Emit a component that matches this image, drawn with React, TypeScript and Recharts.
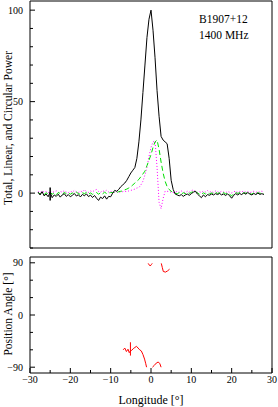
import { LineChart, Line, XAxis, YAxis, ReferenceArea } from "recharts"

const FONT = "'Liberation Serif', 'DejaVu Serif', serif"

// pulse longitude, degrees
const longitude = [
  -28, -27.5, -27, -26.5, -26, -25.5, -25, -24.5, -24, -23.5, -23, -22.5, -22, -21.5, -21, -20.5,
  -20, -19.5, -19, -18.5, -18, -17.5, -17, -16.5, -16, -15.5, -15, -14.5, -14, -13.5, -13, -12.5,
  -12, -11.5, -11, -10.5, -10, -9.5, -9, -8.5, -8, -7.5, -7, -6.5, -6, -5.5, -5, -4.5,
  -4, -3.5, -3, -2.5, -2, -1.5, -1, -0.5, 0, 0.5, 1, 1.5, 2, 2.5, 3, 3.5,
  4, 4.5, 5, 5.5, 6, 6.5, 7, 7.5, 8, 8.5, 9, 9.5, 10, 10.5, 11, 11.5,
  12, 12.5, 13, 13.5, 14, 14.5, 15, 15.5, 16, 16.5, 17, 17.5, 18, 18.5, 19, 19.5,
  20, 20.5, 21, 21.5, 22, 22.5, 23, 23.5, 24, 24.5, 25, 25.5, 26, 26.5, 27, 27.5, 28,
]

const totalPower = [
  0.5, -1, 0.8, -1.5, -0.5, -2, 0.5, -2.5, -1, -1.8, -0.6, -2.2, -1, -0.3, -1.8, -0.8,
  -2, -1.2, -0.2, -1.6, -0.9, -2.1, -0.7, -1.5, -0.4, -1.9, -1.1, -2.4, -1.3, -2.8, -4, -2.2,
  -3, -1.5, -3.3, -1.8, -2, 0, 1.5, 1, 2, 3.5, 4.5, 5.5, 7, 9, 11, 12.5,
  14, 19, 28, 40, 55, 70, 85, 95, 100, 89, 74, 56, 42, 31, 29, 28,
  27, 19, 7, 2, -0.5, -1, -1.5, -0.8, -1.8, -1, -0.5, -1.2, -0.3, 0.5, 1, -0.5,
  -1.5, -2.5, -1, -2, -0.8, -1.2, -0.5, -1, -0.3, -0.8, -0.2, -1, -0.5, -1.3, -0.4, -1.5,
  -2.8, -1.2, -0.3, -1, -0.2, -0.9, 0.2, -0.6, 0.3, -0.5, -1, -0.2, -0.8, 0, -0.7, -0.3, -0.8,
]

const linearPower = [
  0.3, -0.5, 0.6, -0.8, 0.2, -0.4, 0.5, -0.6, 0.1, -0.9, 0.3, -0.2, -0.7, 0.4, -0.3, 0.2,
  -0.6, 0.1, -0.4, 0.5, -0.2, -0.8, 0.2, -0.3, 0.4, -0.5, 0.1, -0.7, -0.2, 0.3, -0.6, 0.2,
  -0.4, 0.5, -0.3, 0.1, 0.3, 0.3, 0.5, 0.2, 0.8, 1, 1.2, 1.8, 2.2, 2.8, 3.5, 4.5,
  5.5, 6.5, 7.5, 9, 10.5, 12, 15, 18, 21, 25, 28, 29, 24, 17, 11, 6.5,
  3.5, 2, 1, 0.3, 0, -0.4, 0.3, -0.6, 0.2, -0.3, 0.5, -0.2, 0.4, 0.8, 1.2, 0.1,
  -0.6, -0.9, 0.2, -0.5, 0.3, -0.4, 0.1, -0.3, 0.5, -0.2, 0.2, -0.5, 0.3, -0.4, 0.1, -0.7,
  -1.5, -0.3, 0.4, -0.2, 0.3, -0.5, 0.2, -0.1, 0.6, -0.3, -0.6, 0.2, -0.4, 0.3, -0.2, 0.1, -0.3,
]

const circularPower = [
  0.8, 0.2, 1.2, 0.5, 0.9, 0.1, 1.1, 0.4, 0.7, 1.3, 0.3, 0.9, 0.5, 1.4, 0.6, 0.2,
  1, 0.5, 1.5, 0.7, 0.3, 1.1, 0.6, 1.8, 0.8, 0.4, 1.2, 0.7, 1.5, 2, 0.9, 0.5,
  1.3, 0.8, 1.6, 0.6, 0.9, 0.5, 0.3, 0.8, 0.5, 0.6, 0.8, 1, 0.8, 1.2, 1.5, 1.8,
  2.2, 2.8, 3, 4.5, 6.5, 10, 14, 20, 25, 28, 28.5, 14, -5, -8.5, -3, 1,
  1, 0.8, 0.5, 0.3, 0.5, 0.9, 0.4, 1.2, 0.6, 0.3, 1, 0.5, 1.3, 1.8, 0.9, 0.4,
  0.8, 0.3, 1.1, 0.6, 1.4, 0.5, 0.9, 0.3, 1.2, 0.7, 0.4, 1, 0.6, 0.2, 0.9, 0.5,
  0.1, 0.7, 1.1, 0.4, 0.9, 0.6, 1.2, 0.5, 0.8, 0.3, 0.6, 1, 0.4, 0.8, 0.5, 1.1, 0.6,
]

// baseline rms error bar on total power
const powerErrLon = [-25, -25]
const powerErrVal = [-4, 3]

// position angle, null breaks the line between wrapped pieces
const paLon = [
  -6.9, -6.5, -6.1, -5.7, -5.4, -5.1, -4.8, -4.4, -4, -3.6, -3.2, -2.8, -2.4, -2, -1.6, -1.3, -1.1,
  -0.9,
  -0.7, -0.4, -0.2, 0.1, 0.3,
  0.31,
  0.35, 0.8, 1.3, 1.8, 2.2, 2.5,
  2.51,
  2.55, 2.8, 3.05, 3.6, 4.1, 4.6,
]
const paDeg = [
  -60, -57, -63, -59, -65, -62, -61, -58, -56, -54, -57, -60, -62, -68, -76, -84, -90,
  null,
  89, 86, 84.5, 87, 89,
  null,
  -90, -87, -83, -81, -84, -90,
  null,
  89, 82, 75, 74, 76, 79,
]
const paErrLon = [-5.1, -5.1]
const paErrVal = [-47, -70]

const lonTicks = [-30, -25, -20, -15, -10, -5, 0, 5, 10, 15, 20, 25, 30]
const powerTicks = [-30, -20, -10, 0, 10, 20, 30, 40, 50, 60, 70, 80, 90, 100]
const paTicks = [-90, -60, -30, 0, 30, 60, 90]

const powerRows = longitude.map((lon, i) => ({
  lon,
  total: totalPower[i],
  linear: linearPower[i],
  circular: circularPower[i],
}))
const powerErr = powerErrLon.map((lon, i) => ({ lon, v: powerErrVal[i] }))
const paRows = paLon.map((lon, i) => ({ lon, v: paDeg[i] }))
const paErr = paErrLon.map((lon, i) => ({ lon, v: paErrVal[i] }))

const fmt = (v: number) => (v < 0 ? `\u2212${-v}` : `${v}`)

type Side = "bottom" | "top" | "left" | "right"

function inwardTick(side: Side, majorStep: number, labelStep: number | null) {
  return (props: any) => {
    const { x, y, payload } = props
    const v = payload.value as number
    const len = v % majorStep === 0 ? 5 : 3
    const showLabel = labelStep !== null && v % labelStep === 0
    let line
    if (side === "bottom") line = <line x1={x} x2={x} y1={y} y2={y - len} stroke="#000" />
    else if (side === "top") line = <line x1={x} x2={x} y1={y} y2={y + len} stroke="#000" />
    else if (side === "left") line = <line x1={x} x2={x + len} y1={y} y2={y} stroke="#000" />
    else line = <line x1={x} x2={x - len} y1={y} y2={y} stroke="#000" />
    return (
      <g>
        {line}
        {showLabel && side === "bottom" && (
          <text x={x} y={y + 10} textAnchor="middle" fontSize={10} fontFamily={FONT} fill="#000">
            {fmt(v)}
          </text>
        )}
        {showLabel && side === "left" && (
          <text x={x - 7} y={y + 3.5} textAnchor="end" fontSize={10} fontFamily={FONT} fill="#000">
            {fmt(v)}
          </text>
        )}
      </g>
    )
  }
}

const axisCommon = {
  tickSize: 0,
  tickMargin: 0,
  tickLine: false,
  axisLine: false,
  interval: 0 as const,
  allowDataOverflow: true,
}

export default function App() {
  return (
    <div style={{ position: "absolute", left: 0, top: 0, width: 278, height: 407, background: "#fff" }}>
      <div style={{ position: "absolute", left: 0, top: 0 }}>
        <LineChart width={278} height={250} data={powerRows} margin={{ top: 1, right: 6, bottom: 2, left: 0 }}>
          <XAxis {...axisCommon} dataKey="lon" type="number" domain={[-30, 30]} ticks={lonTicks} height={0}
            tick={inwardTick("bottom", 10, null)} />
          <XAxis {...axisCommon} xAxisId="t" orientation="top" dataKey="lon" type="number" domain={[-30, 30]}
            ticks={lonTicks} height={0} tick={inwardTick("top", 10, null)} />
          <YAxis {...axisCommon} type="number" domain={[-30, 105]} ticks={powerTicks} width={30}
            tick={inwardTick("left", 50, 50)} />
          <YAxis {...axisCommon} yAxisId="r" orientation="right" type="number" domain={[-30, 105]}
            ticks={powerTicks} width={0} tick={inwardTick("right", 50, null)} />
          <ReferenceArea x1={-30} x2={30} y1={-30} y2={105} fill="none" stroke="#000" strokeWidth={1}
            ifOverflow="visible" />
          <Line dataKey="circular" stroke="#ff00ff" strokeWidth={1} strokeDasharray="1 2" dot={false}
            activeDot={false} isAnimationActive={false} />
          <Line dataKey="linear" stroke="#00e000" strokeWidth={1} strokeDasharray="5 3" dot={false}
            activeDot={false} isAnimationActive={false} />
          <Line dataKey="total" stroke="#000" strokeWidth={1} dot={false} activeDot={false}
            isAnimationActive={false} />
          <Line data={powerErr} dataKey="v" stroke="#000" strokeWidth={1.5} dot={false} activeDot={false}
            isAnimationActive={false} />
        </LineChart>
      </div>
      <div style={{ position: "absolute", left: 0, top: 250 }}>
        <LineChart width={278} height={157} data={paRows} margin={{ top: 7, right: 6, bottom: 0, left: 0 }}>
          <XAxis {...axisCommon} dataKey="lon" type="number" domain={[-30, 30]} ticks={lonTicks} height={34}
            tick={inwardTick("bottom", 10, 10)} />
          <XAxis {...axisCommon} xAxisId="t" orientation="top" dataKey="lon" type="number" domain={[-30, 30]}
            ticks={lonTicks} height={0} tick={inwardTick("top", 10, null)} />
          <YAxis {...axisCommon} type="number" domain={[-100, 100]} ticks={paTicks} width={30}
            tick={inwardTick("left", 90, 90)} />
          <YAxis {...axisCommon} yAxisId="r" orientation="right" type="number" domain={[-100, 100]}
            ticks={paTicks} width={0} tick={inwardTick("right", 90, null)} />
          <ReferenceArea x1={-30} x2={30} y1={-100} y2={100} fill="none" stroke="#000" strokeWidth={1}
            ifOverflow="visible" />
          <Line dataKey="v" stroke="#ff0000" strokeWidth={1} dot={false} activeDot={false}
            connectNulls={false} isAnimationActive={false} />
          <Line data={paErr} dataKey="v" stroke="#ff0000" strokeWidth={1} dot={false} activeDot={false}
            isAnimationActive={false} />
        </LineChart>
      </div>
      <div style={{ position: "absolute", left: 199, top: 13, fontFamily: FONT, fontSize: 11.5, lineHeight: "12px" }}>
        B1907+12
      </div>
      <div style={{ position: "absolute", left: 199, top: 29, fontFamily: FONT, fontSize: 11.5, lineHeight: "12px" }}>
        1400 MHz
      </div>
      <div style={{
        position: "absolute", left: 8, top: 128, width: 0, height: 0, fontFamily: FONT, fontSize: 11.5,
      }}>
        <div style={{ position: "absolute", transform: "translate(-50%, -50%) rotate(-90deg)", whiteSpace: "nowrap", lineHeight: "12px" }}>
          Total, Linear, and Circular Power
        </div>
      </div>
      <div style={{
        position: "absolute", left: 8, top: 314, width: 0, height: 0, fontFamily: FONT, fontSize: 11.5,
      }}>
        <div style={{ position: "absolute", transform: "translate(-50%, -50%) rotate(-90deg)", whiteSpace: "nowrap", lineHeight: "12px" }}>
          Position Angle [°]
        </div>
      </div>
      <div style={{
        position: "absolute", left: 151, top: 400, width: 0, height: 0, fontFamily: FONT, fontSize: 12,
      }}>
        <div style={{ position: "absolute", transform: "translate(-50%, -50%)", whiteSpace: "nowrap", lineHeight: "12px" }}>
          Longitude [°]
        </div>
      </div>
    </div>
  )
}
